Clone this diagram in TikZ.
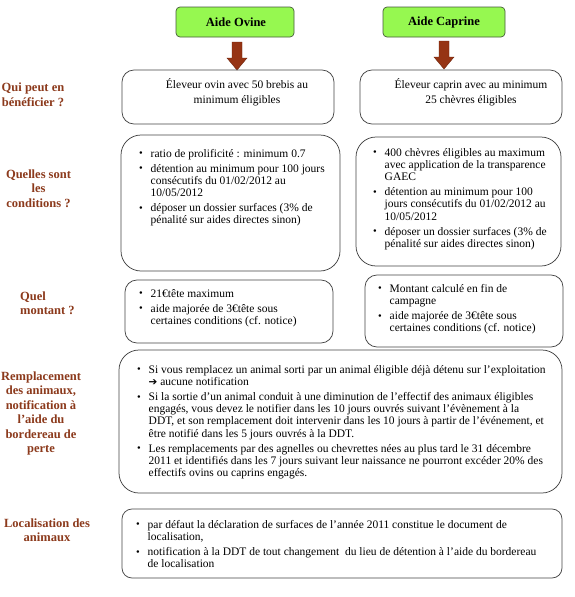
\documentclass[tikz,border=0pt]{standalone}
\usepackage{fontspec}
\setmainfont{Liberation Serif}
\newfontfamily\dejavu{DejaVu Sans}
\usetikzlibrary{calc}
\definecolor{limefill}{RGB}{150,248,80}
\definecolor{limeedge}{RGB}{70,90,60}
\definecolor{arrowc}{RGB}{150,52,20}
\definecolor{arrowedge}{RGB}{110,35,10}
\definecolor{lblc}{RGB}{140,58,28}
\definecolor{boxedge}{RGB}{70,70,70}
\newcommand{\bul}{\makebox[11.5pt][l]{\raisebox{0.3pt}{\fontsize{10.5}{12}\selectfont\textbullet}}}
\newcommand{\bgap}{\\[2.7pt]}
\begin{document}
\begin{tikzpicture}[x=1pt,y=-1pt,
  titlebox/.style={draw=limeedge, fill=limefill, line width=0.7pt, rounded corners=4pt, inner sep=0pt},
  titletext/.style={font=\bfseries\fontsize{12.5}{14}\selectfont, inner sep=0pt},
  infobox/.style={draw=boxedge, line width=0.75pt, rounded corners=#1, inner sep=0pt},
  infobox/.default=10pt,
  lbl/.style={text=lblc, font=\bfseries\fontsize{12.5}{14.5}\selectfont, align=center, inner sep=0pt},
  body/.style={font=\fontsize{11.5}{12.3}\selectfont, inner sep=0pt, anchor=base west},
  ctext/.style={font=\fontsize{11.5}{15}\selectfont, inner sep=0pt, align=center},
  blockarrow/.style={fill=arrowc, draw=arrowedge, line width=0.4pt}
]
\useasboundingbox (0,0) rectangle (574,597);
\fill[white] (0,0) rectangle (574,597);

% title boxes
\node[titlebox, minimum width=118pt, minimum height=30pt] (tOv) at (235,22) {};
\node[titletext] (tOvT) at (236,22.5) {Aide Ovine};
\node[titlebox, minimum width=122pt, minimum height=30pt] (tCa) at (444,22) {};
\node[titletext] (tCaT) at (444,22.5) {Aide Caprine};

% block arrows
\coordinate (aO) at (237,42);
\coordinate (aC) at (444,41);
\filldraw[blockarrow] (aO) ++(-5,0) -- ++(10,0) -- ++(0,16) -- ++(5,0) -- ++(-10,12) -- ++(-10,-12) -- ++(5,0) -- cycle;
\filldraw[blockarrow] (aC) ++(-5,0) -- ++(10,0) -- ++(0,16) -- ++(5,0) -- ++(-10,12) -- ++(-10,-12) -- ++(5,0) -- cycle;

% row 1
\node[infobox=12pt, minimum width=212pt, minimum height=54pt] (b1L) at (228,97) {};
\node[infobox=12pt, minimum width=202pt, minimum height=54pt] (b1R) at (461,97) {};
\node[ctext] (t1L) at (237,92) {Éleveur ovin avec 50 brebis au\\minimum éligibles};
\node[ctext] (t1R) at (471,92) {Éleveur caprin avec au minimum\\25 chèvres éligibles};

% row 2
\node[infobox=20pt, minimum width=219pt, minimum height=136pt] (b2L) at (230.5,203) {};
\node[infobox=20pt, minimum width=205pt, minimum height=129pt] (b2R) at (458.5,201.5) {};
\node[body] (t2L) at (139,157) {\begin{tabular}[t]{@{}l@{}l@{}}
\bul & ratio de prolificité : minimum 0.7\bgap
\bul & détention au minimum pour 100 jours\\
 & consécutifs du 01/02/2012 au\\
 & 10/05/2012\bgap
\bul & déposer un dossier surfaces (3\% de\\
 & pénalité sur aides directes sinon)
\end{tabular}};
\node[body] (t2R) at (373,156) {\begin{tabular}[t]{@{}l@{}l@{}}
\bul & 400 chèvres éligibles au maximum\\
 & avec application de la transparence\\
 & GAEC\bgap
\bul & détention au minimum pour 100\\
 & jours consécutifs du 01/02/2012 au\\
 & 10/05/2012\bgap
\bul & déposer un dossier surfaces (3\% de\\
 & pénalité sur aides directes sinon)
\end{tabular}};

% row 3
\node[infobox=12pt, minimum width=208pt, minimum height=63pt] (b3L) at (229,311.5) {};
\node[infobox=12pt, minimum width=198pt, minimum height=72pt] (b3R) at (464,311) {};
\node[body] (t3L) at (139,297) {\begin{tabular}[t]{@{}l@{}l@{}}
\bul & 21€tête maximum\bgap
\bul & aide majorée de 3€tête sous\\
 & certaines conditions (cf. notice)
\end{tabular}};
\node[body] (t3R) at (378,292) {\begin{tabular}[t]{@{}l@{}l@{}}
\bul & Montant calculé en fin de\\
 & campagne\bgap
\bul & aide majorée de 3€tête sous\\
 & certaines conditions (cf. notice)
\end{tabular}};

% row 4
\node[infobox=20pt, minimum width=443pt, minimum height=143pt] (b4) at (340.5,421.5) {};
\node[body] (t4) at (137,373) {\begin{tabular}[t]{@{}l@{}l@{}}
\bul & Si vous remplacez un animal sorti par un animal éligible déjà détenu sur l’exploitation\\
 & {\dejavu\fontsize{10.5}{12}\selectfont ➔} aucune notification\bgap
\bul & Si la sortie d’un animal conduit à une diminution de l’effectif des animaux éligibles\\
 & engagés, vous devez le notifier dans les 10 jours ouvrés suivant l'évènement à la\\
 & DDT, et son remplacement doit intervenir dans les 10 jours à partir de l’événement, et\\
 & être notifié dans les 5 jours ouvrés à la DDT.\bgap
\bul & Les remplacements par des agnelles ou chevrettes nées au plus tard le 31 décembre\\
 & 2011 et identifiés dans les 7 jours suivant leur naissance ne pourront excéder 20\% des\\
 & effectifs ovins ou caprins engagés.
\end{tabular}};

% row 5
\node[infobox=10pt, minimum width=440pt, minimum height=69pt] (b5) at (342,543.5) {};
\node[body] (t5) at (136,528) {\begin{tabular}[t]{@{}l@{}l@{}}
\bul & par défaut la déclaration de surfaces de l’année 2011 constitue le document de\\
 & localisation,\bgap
\bul & notification à la DDT de tout changement\ \ du lieu de détention à l’aide du bordereau\\
 & de localisation
\end{tabular}};

% left labels
\node[lbl] (q1) at (33,95) {Qui peut en\\bénéficier ?};
\node[lbl] (q2) at (38.5,188.5) {Quelles sont\\les\\conditions ?};
\node[lbl, align=left, anchor=west] (q3) at (20,303) {Quel\\montant ?};
\node[lbl] (q4) at (41,413.5) {Remplacement\\des animaux,\\notification à\\l’aide du\\bordereau de\\perte};
\node[lbl] (q5) at (47,530) {Localisation des\\animaux};
\end{tikzpicture}
\end{document}
